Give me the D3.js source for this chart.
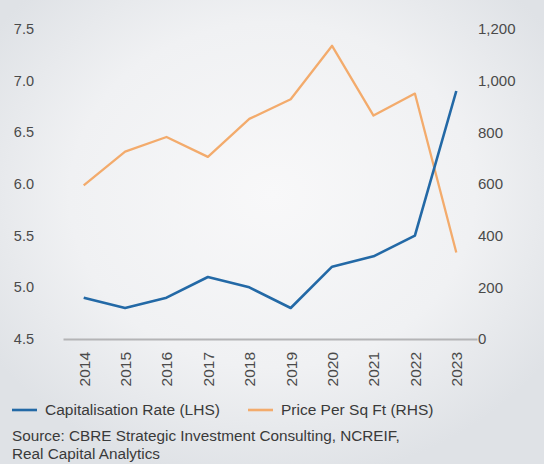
<!DOCTYPE html>
<html>
<head>
<meta charset="utf-8">
<script src="https://cdn.jsdelivr.net/npm/d3@7"></script>
<style>
  html, body { margin: 0; padding: 0; background: #eceef1; }
  svg { display: block; }
  text { font-family: "Liberation Sans", Arial, sans-serif; }
</style>
</head>
<body>
<script>
const years = ["2014","2015","2016","2017","2018","2019","2020","2021","2022","2023"];
const capRate = [4.9, 4.8, 4.9, 5.1, 5.0, 4.8, 5.2, 5.3, 5.5, 6.9];
const pricePerSqFt = [595, 725, 782, 705, 852, 928, 1135, 865, 950, 335];
const leftTicks = [4.5, 5.0, 5.5, 6.0, 6.5, 7.0, 7.5];
const rightTicks = [0, 200, 400, 600, 800, 1000, 1200];
const seriesNames = ["Capitalisation Rate (LHS)", "Price Per Sq Ft (RHS)"];
const sourceLines = ["Source: CBRE Strategic Investment Consulting, NCREIF,", "Real Capital Analytics"];

const W = 544, H = 464;
const blue = "#2369a6", orange = "#f3ab6c";
const FONT = "'Liberation Sans', Arial, sans-serif";

const svg = d3.select("body").append("svg").attr("width", W).attr("height", H);
const defs = svg.append("defs");
const grad = defs.append("radialGradient").attr("id", "bg")
  .attr("cx", "0.5").attr("cy", "0.42").attr("r", "0.62");
grad.append("stop").attr("offset", "0").attr("stop-color", "#f8f8f9");
grad.append("stop").attr("offset", "0.6").attr("stop-color", "#f0f1f3");
grad.append("stop").attr("offset", "1").attr("stop-color", "#dfe2e6");
svg.append("rect").attr("width", W).attr("height", H).attr("fill", "url(#bg)");

const x = d3.scalePoint().domain(years).range([63, 477]).padding(0.5);
const yL = d3.scaleLinear().domain([4.5, 7.5]).range([339, 29]);
const yR = d3.scaleLinear().domain([0, 1200]).range([339, 29]);

// left axis labels
const leftAxis = d3.axisLeft(yL).tickValues(leftTicks).tickFormat(d3.format(".1f")).tickSize(0).tickPadding(0);
const gL = svg.append("g").attr("transform", "translate(34,0)").call(leftAxis);
gL.select(".domain").remove();
gL.selectAll("text").attr("font-size", 14.5).attr("fill", "#4a4a4a").attr("font-family", FONT);

// right axis labels
const rightAxis = d3.axisRight(yR).tickValues(rightTicks).tickFormat(d3.format(",")).tickSize(0).tickPadding(0);
const gR = svg.append("g").attr("transform", "translate(478,0)").call(rightAxis);
gR.select(".domain").remove();
gR.selectAll("text").attr("font-size", 15).attr("fill", "#4a4a4a").attr("font-family", FONT);

// x axis
const xAxis = d3.axisBottom(x).tickSize(0).tickPadding(0);
const gX = svg.append("g").attr("transform", "translate(0,339)").call(xAxis);
gX.select(".domain").attr("stroke", "#b4b4b6").attr("stroke-width", 1.8);
gX.selectAll("text")
  .attr("font-size", 15.5).attr("fill", "#4a4a4a").attr("font-family", FONT)
  .attr("transform", "rotate(-90)")
  .attr("text-anchor", "end")
  .attr("x", -13).attr("y", 0).attr("dy", "0.35em");

// lines
const lineCap = d3.line().x((d, i) => x(years[i])).y(d => yL(d));
const linePrice = d3.line().x((d, i) => x(years[i])).y(d => yR(d));

svg.append("path").datum(pricePerSqFt).attr("d", linePrice)
  .attr("fill", "none").attr("stroke", orange).attr("stroke-width", 2.3).attr("stroke-linejoin", "round");
svg.append("path").datum(capRate).attr("d", lineCap)
  .attr("fill", "none").attr("stroke", blue).attr("stroke-width", 2.6).attr("stroke-linejoin", "round");

// legend
const legend = [
  { name: seriesNames[0], color: blue, x0: 12 },
  { name: seriesNames[1], color: orange, x0: 248 }
];
legend.forEach(l => {
  svg.append("line").attr("x1", l.x0).attr("x2", l.x0 + 25).attr("y1", 410).attr("y2", 410)
    .attr("stroke", l.color).attr("stroke-width", 2.6);
  svg.append("text").attr("x", l.x0 + 33).attr("y", 410).attr("dy", "0.35em")
    .attr("font-size", 15.5).attr("fill", "#3a3a3a").text(l.name);
});

// source
sourceLines.forEach((s, i) => {
  svg.append("text").attr("x", 12).attr("y", 436 + i * 17.6).attr("dy", "0.35em")
    .attr("font-size", 15.3).attr("fill", "#3a3a3a").text(s);
});
</script>
</body>
</html>
